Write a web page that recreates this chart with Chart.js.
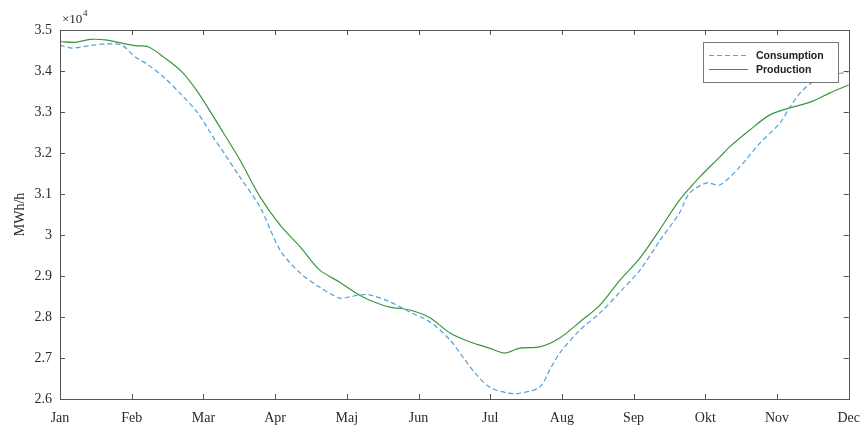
<!DOCTYPE html>
<html>
<head>
<meta charset="utf-8">
<script src="https://cdn.jsdelivr.net/npm/chart.js@4.4.3/dist/chart.umd.min.js"></script>
<style>
    html, body { margin: 0; padding: 0; background: #fff; }
    #wrap { width: 863px; height: 427px; }
</style>
</head>
<body>
<div id="wrap"><canvas id="chart" width="863" height="427"></canvas></div>
<script>
// -----------------------------
// Consumption vs production, MWh/h over the year
// -----------------------------

const months = ["Jan", "Feb", "Mar", "Apr", "Maj", "Jun", "Jul", "Aug", "Sep", "Okt", "Nov", "Dec"];

// x positions are in month units (0 = Jan, 11 = Dec)
const consumptionMonth = [0, 0.17, 0.42, 0.63, 0.86, 1.05, 1.23, 1.46, 1.70, 1.92, 2.16, 2.23, 2.51, 2.79, 3.07, 3.35,
    3.62, 3.90, 4.04, 4.18, 4.32, 4.60, 4.88, 5.16, 5.44, 5.62, 5.81, 5.99, 6.23, 6.41, 6.69, 6.83, 6.97, 7.25, 7.53,
    7.81, 8.09, 8.36, 8.64, 8.78, 9.02, 9.20, 9.48, 9.76, 10.04, 10.18, 10.32, 10.50, 10.78, 11];
const consumption = [34630, 34560, 34620, 34660, 34630, 34340, 34150, 33830, 33410, 32980, 32320, 32150, 31410, 30680,
    29630, 29070, 28730, 28460, 28490, 28540, 28540, 28370, 28120, 27880, 27440, 27020, 26590, 26290, 26150, 26140,
    26290, 26710, 27120, 27680, 28100, 28610, 29150, 29850, 30540, 31020, 31270, 31220, 31660, 32240, 32730, 33120,
    33460, 33730, 33900, 33980];

const productionMonth = [0, 0.21, 0.42, 0.63, 0.86, 1.05, 1.23, 1.46, 1.70, 1.92, 2.23, 2.51, 2.79, 3.07, 3.35, 3.62,
    3.90, 4.18, 4.32, 4.60, 4.88, 5.16, 5.44, 5.72, 5.99, 6.20, 6.41, 6.69, 6.97, 7.25, 7.53, 7.81, 8.09, 8.36, 8.64,
    8.92, 9.20, 9.34, 9.62, 9.90, 10.18, 10.46, 10.73, 11];
const production = [34720, 34700, 34770, 34760, 34680, 34620, 34590, 34320, 33980, 33490, 32630, 31830, 30930, 30240,
    29710, 29150, 28850, 28530, 28410, 28240, 28170, 27980, 27610, 27390, 27240, 27120, 27240, 27270, 27490, 27880,
    28290, 28900, 29440, 30120, 30850, 31410, 31900, 32150, 32560, 32930, 33100, 33240, 33460, 33660];

const yMin = 26000;
const yMax = 35000;
const yStep = 1000;

const consumptionColor = "rgb(80, 160, 218)";
const productionColor = "rgb(58, 150, 62)";
const frameColor = "#555";
const textColor = "#2a2a2a";
const serif = "'Liberation Serif', 'DejaVu Serif', serif";

function toPoints(xs, ys) {
    return xs.map((x, i) => ({ x, y: ys[i] }));
}

// Box, inward ticks on all four sides, exponent label and legend
const framePlugin = {
    id: "frame",
    afterDraw(chart) {
        const ctx = chart.ctx;
        const a = chart.chartArea;
        const xs = chart.scales.x;
        const ys = chart.scales.y;
        const tick = 5;

        ctx.save();
        ctx.strokeStyle = frameColor;
        ctx.lineWidth = 1;
        ctx.strokeRect(Math.round(a.left) + 0.5, Math.round(a.top) + 0.5,
            Math.round(a.right - a.left), Math.round(a.bottom - a.top));

        ctx.beginPath();
        for (let m = 1; m < months.length - 1; m++) {
            const px = Math.round(xs.getPixelForValue(m)) + 0.5;
            ctx.moveTo(px, a.bottom);
            ctx.lineTo(px, a.bottom - tick);
            ctx.moveTo(px, a.top);
            ctx.lineTo(px, a.top + tick);
        }
        for (let v = yMin + yStep; v < yMax; v += yStep) {
            const py = Math.round(ys.getPixelForValue(v)) + 0.5;
            ctx.moveTo(a.left, py);
            ctx.lineTo(a.left + tick, py);
            ctx.moveTo(a.right, py);
            ctx.lineTo(a.right - tick, py);
        }
        ctx.stroke();

        // x10^4 multiplier
        ctx.fillStyle = textColor;
        ctx.font = "13px " + serif;
        ctx.textBaseline = "alphabetic";
        ctx.fillText("\u00d710", a.left + 2, a.top - 7);
        ctx.font = "9px " + serif;
        ctx.fillText("4", a.left + 23, a.top - 14);

        // legend
        const lx = 703, ly = 42, lw = 135, lh = 40;
        ctx.fillStyle = "#fff";
        ctx.fillRect(lx, ly, lw, lh);
        ctx.strokeStyle = "#777";
        ctx.strokeRect(lx + 0.5, ly + 0.5, lw, lh);

        const rows = [
            { label: chart.data.datasets[0].label, color: consumptionColor, dash: [5, 3], y: ly + 13 },
            { label: chart.data.datasets[1].label, color: productionColor, dash: [], y: ly + 27 }
        ];
        rows.forEach(r => {
            ctx.strokeStyle = r.color;
            ctx.setLineDash(r.dash);
            ctx.beginPath();
            ctx.moveTo(lx + 6, r.y + 0.5);
            ctx.lineTo(lx + 45, r.y + 0.5);
            ctx.stroke();
            ctx.setLineDash([]);
            ctx.fillStyle = "#222";
            ctx.font = "bold 10.5px 'Liberation Sans', Arial, sans-serif";
            ctx.textBaseline = "middle";
            ctx.fillText(r.label, lx + 53, r.y + 1);
        });
        ctx.restore();
    }
};

new Chart(document.getElementById("chart"), {
    type: "line",
    data: {
        datasets: [
            {
                label: "Consumption",
                data: toPoints(consumptionMonth, consumption),
                borderColor: consumptionColor,
                borderWidth: 1.2,
                borderDash: [5, 3],
                pointRadius: 0,
                tension: 0.3,
                fill: false
            },
            {
                label: "Production",
                data: toPoints(productionMonth, production),
                borderColor: productionColor,
                borderWidth: 1.2,
                pointRadius: 0,
                tension: 0.3,
                fill: false
            }
        ]
    },
    plugins: [framePlugin],
    options: {
        responsive: false,
        animation: false,
        parsing: false,
        layout: { padding: { left: 0, right: 14, top: 30, bottom: 0 } },
        plugins: {
            legend: { display: false },
            tooltip: { enabled: false }
        },
        scales: {
            x: {
                type: "linear",
                min: 0,
                max: months.length - 1,
                grid: { display: false },
                border: { display: false },
                ticks: {
                    stepSize: 1,
                    autoSkip: false,
                    maxRotation: 0,
                    padding: 3,
                    color: textColor,
                    font: { family: serif, size: 14 },
                    callback: value => months[value]
                },
                afterFit(scale) { scale.height = 28; }
            },
            y: {
                min: yMin,
                max: yMax,
                grid: { display: false },
                border: { display: false },
                title: {
                    display: true,
                    text: "MWh/h",
                    color: textColor,
                    font: { family: serif, size: 14 },
                    padding: { top: 12, bottom: 0 }
                },
                ticks: {
                    stepSize: yStep,
                    padding: 0,
                    color: textColor,
                    font: { family: serif, size: 14 },
                    callback: value => String(Math.round(value / 1000) / 10)
                },
                afterFit(scale) { scale.width = 60; }
            }
        }
    }
});
</script>
</body>
</html>
